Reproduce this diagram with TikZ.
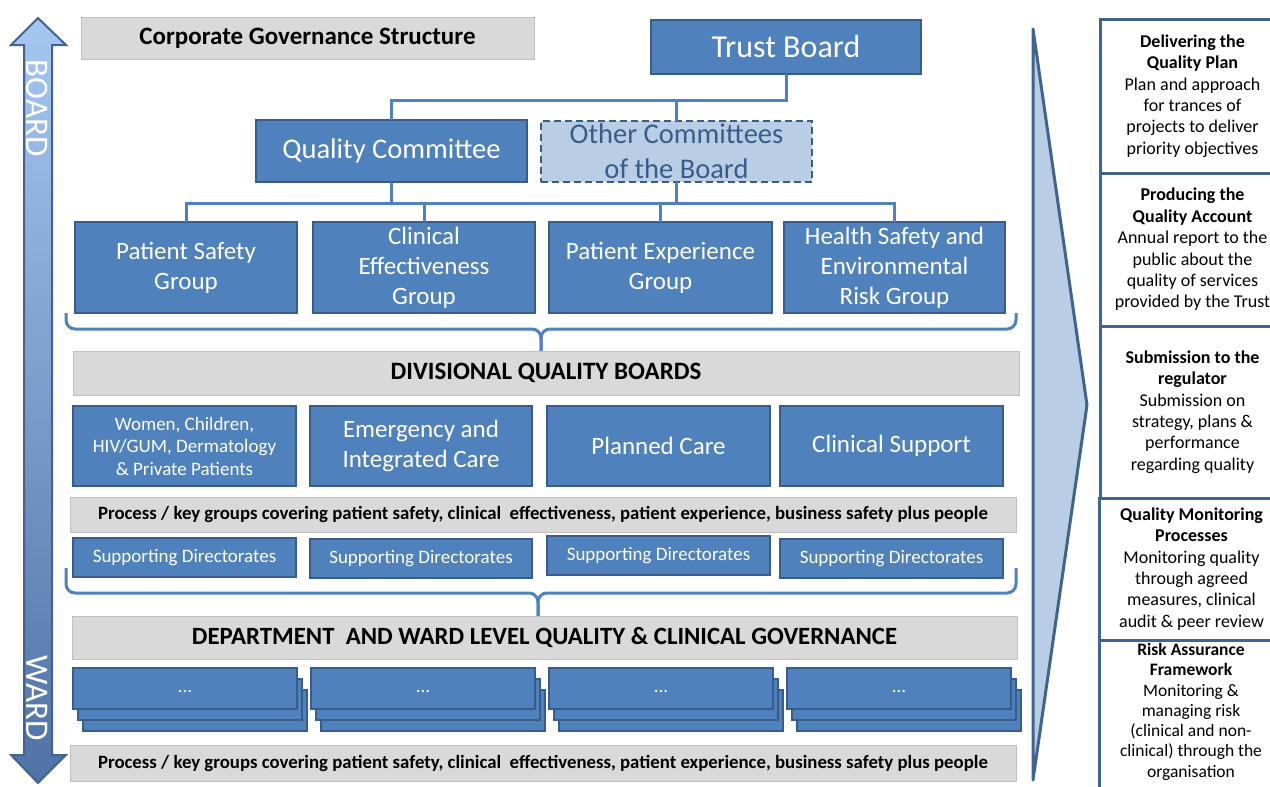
\documentclass[tikz,border=0pt]{standalone}
\usepackage{fontspec}
\setmainfont{Carlito}
\usetikzlibrary{shapes.geometric}
\definecolor{bfill}{HTML}{4F81BD}
\definecolor{bdr}{HTML}{385D8A}
\definecolor{lfill}{HTML}{B9CDE5}
\definecolor{gfill}{HTML}{D9D9D9}
\definecolor{gbdr}{HTML}{BFBFBF}
\definecolor{adark}{HTML}{41648F}
\definecolor{atop}{HTML}{A6C6F2}
\definecolor{abot}{HTML}{4F72A6}
\tikzset{
  bluebox/.style={draw=bdr, fill=bfill, line width=2.5pt, text=white, align=center, inner sep=0pt, outer sep=0pt, anchor=north west},
  graybar/.style={draw=gbdr, fill=gfill, line width=1pt, text=black, align=center, inner sep=0pt, outer sep=0pt, anchor=north west, font=\bfseries},
  conn/.style={draw=bfill, line width=3pt},
  brace/.style={draw=bfill, line width=3pt, rounded corners=9pt},
  rbox/.style={draw=adark, fill=white, line width=3pt, align=center, inner sep=0pt, outer sep=0pt, anchor=north west, minimum width=185pt, font=\fontsize{18}{21.4}\selectfont},
  big/.style={font=\fontsize{25}{30}\selectfont},
  small/.style={font=\fontsize{19}{22.5}\selectfont},
}
\begin{document}
\begin{tikzpicture}[x=1pt,y=-1pt]
\useasboundingbox (0,0) rectangle (1270,787);
\clip (0,0) rectangle (1270,787);
% left double arrow
\shade[top color=atop, bottom color=abot, draw=adark, line width=2pt]
  (38,18) -- (66,45) -- (52,45) -- (52,755) -- (66,755) -- (38,783) -- (11,755) -- (24,755) -- (24,45) -- (11,45) -- cycle;
\node[rotate=-90, text=white, font=\fontsize{33}{34}\selectfont] (board) at (37,108) {BOARD};
\node[rotate=-90, text=white, font=\fontsize{33}{34}\selectfont] (ward) at (37,698) {WARD};
% title
\node[graybar, minimum width=453pt, minimum height=42pt, font=\bfseries\fontsize{25}{28}\selectfont] (title) at (81,17) {\raisebox{-2pt}{Corporate Governance Structure}};
% top levels
\node[bluebox, minimum width=270pt, minimum height=54pt, font=\fontsize{32}{36}\selectfont] (tb) at (651,20) {Trust Board};
\node[bluebox, minimum width=271pt, minimum height=62pt, font=\fontsize{28.5}{34}\selectfont] (qc) at (256,120) {\raisebox{-2pt}{Quality Committee}};
\node[bluebox, fill=lfill, dash pattern=on 7pt off 4pt, text=bdr, minimum width=271pt, minimum height=61pt, font=\fontsize{28.5}{35}\selectfont] (oc) at (541,121) {Other Committees\\of the Board};
\coordinate (j1) at (786,100);
\draw[conn] (tb.south) -- (j1) -| (qc.north);
\draw[conn] (oc.north) -- (oc.north |- j1);
% groups
\node[bluebox, big, minimum width=222pt, minimum height=91pt] (ps) at (75,222) {Patient Safety\\Group};
\node[bluebox, big, minimum width=222pt, minimum height=91pt] (ce) at (313,222) {Clinical\\Effectiveness\\Group};
\node[bluebox, big, minimum width=223pt, minimum height=91pt] (pe) at (549,222) {Patient Experience\\Group};
\node[bluebox, big, minimum width=221pt, minimum height=91pt] (hs) at (784,222) {Health Safety and\\Environmental\\Risk Group};
\coordinate (j2) at (186,203);
\draw[conn] (qc.south) -- (qc.south |- j2);
\draw[conn] (oc.south) -- (oc.south |- j2);
\draw[conn] (ps.north) -- (j2) -| (hs.north);
\draw[conn] (ce.north) -- (ce.north |- j2);
\draw[conn] (pe.north) -- (pe.north |- j2);
% brace 1
\coordinate (b1l) at (66,313);
\coordinate (b1m) at (541,329);
\coordinate (b1r) at (1016,313);
\draw[brace] (b1l) |- (b1m) -- ++(0,27);
\draw[brace] (541,356) -- (b1m) -| (b1r);
% divisional
\node[graybar, minimum width=946pt, minimum height=44pt, font=\bfseries\fontsize{25}{28}\selectfont] (dqb) at (73,351) {\raisebox{-2pt}{DIVISIONAL QUALITY BOARDS}};
\node[bluebox, small, minimum width=223pt, minimum height=80pt] (d1) at (73,406) {Women, Children,\\HIV/GUM, Dermatology\\\& Private Patients};
\node[bluebox, big, minimum width=222pt, minimum height=80pt] (d2) at (310,406) {Emergency and\\Integrated Care};
\node[bluebox, big, minimum width=223pt, minimum height=80pt] (d3) at (547,406) {Planned Care};
\node[bluebox, big, minimum width=223pt, minimum height=80pt] (d4) at (780,406) {Clinical Support};
\node[graybar, minimum width=946pt, minimum height=35pt, font=\bfseries\fontsize{18.8}{22}\selectfont] (pk1) at (70,497) {\raisebox{-1.5pt}{Process / key groups covering patient safety, clinical\ \ effectiveness, patient experience, business safety plus people}};
% supporting
\node[bluebox, small, minimum width=223pt, minimum height=39pt] (s1) at (73,538) {\raisebox{-1.5pt}{Supporting Directorates}};
\node[bluebox, small, minimum width=222pt, minimum height=39pt] (s2) at (310,539) {\raisebox{-1.5pt}{Supporting Directorates}};
\node[bluebox, small, minimum width=223pt, minimum height=39pt] (s3) at (547,536) {\raisebox{-1.5pt}{Supporting Directorates}};
\node[bluebox, small, minimum width=223pt, minimum height=39pt] (s4) at (780,539) {\raisebox{-1.5pt}{Supporting Directorates}};
% brace 2
\coordinate (b2l) at (66,568);
\coordinate (b2m) at (538,593);
\coordinate (b2r) at (1016,568);
\draw[brace] (b2l) |- (b2m) -- ++(0,26);
\draw[brace] (538,619) -- (b2m) -| (b2r);
\node[graybar, minimum width=945pt, minimum height=43pt, font=\bfseries\fontsize{24.8}{28}\selectfont] (dw) at (72,616) {\raisebox{-2pt}{DEPARTMENT\ \ AND WARD LEVEL QUALITY \& CLINICAL GOVERNANCE}};
% stacks
\foreach \i/\x in {1/73,2/311,3/549,4/787}{
  \node[bluebox, minimum width=224pt, minimum height=41pt] (st\i c) at (\x+10,690) {};
  \node[bluebox, minimum width=224pt, minimum height=41pt] (st\i b) at (\x+5,679) {};
  \node[bluebox, small, minimum width=224pt, minimum height=41pt] (st\i a) at (\x,668) {\vphantom{Ag}...};
}
\node[graybar, minimum width=946pt, minimum height=36pt, font=\bfseries\fontsize{18.8}{22}\selectfont] (pk2) at (70,745) {\raisebox{-1.5pt}{Process / key groups covering patient safety, clinical\ \ effectiveness, patient experience, business safety plus people}};
% big triangle
\draw[fill=lfill, draw=adark, line width=3pt, line join=round] (1033,29) -- (1087,405) -- (1033,780) -- cycle;
% right boxes
\node[rbox, minimum height=154pt] (r1) at (1100,19) {\textbf{Delivering the}\\\textbf{Quality Plan}\\Plan and approach\\for trances of\\projects to deliver\\priority objectives};
\node[rbox, minimum height=153pt] (r2) at (1100,173) {\textbf{Producing the}\\\textbf{Quality Account}\\Annual report to the\\public about the\\quality of services\\provided by the Trust};
\node[rbox, minimum height=172pt] (r3) at (1100,326) {\textbf{Submission to the}\\\textbf{regulator}\\Submission on\\strategy, plans \&\\performance\\regarding quality};
\node[rbox, minimum height=142pt] (r4) at (1099,498) {\textbf{Quality Monitoring}\\\textbf{Processes}\\Monitoring quality\\through agreed\\measures, clinical\\audit \& peer review};
\draw[draw=adark, line width=3pt] (1099,800) -- (1099,640) -- (1290,640);
\node[anchor=north, align=center, font=\fontsize{17.5}{20.3}\selectfont, inner sep=0pt] (r5) at (1191,643) {\textbf{Risk Assurance}\\\textbf{Framework}\\Monitoring \&\\managing risk\\(clinical and non-\\clinical) through the\\organisation};
\end{tikzpicture}
\end{document}
